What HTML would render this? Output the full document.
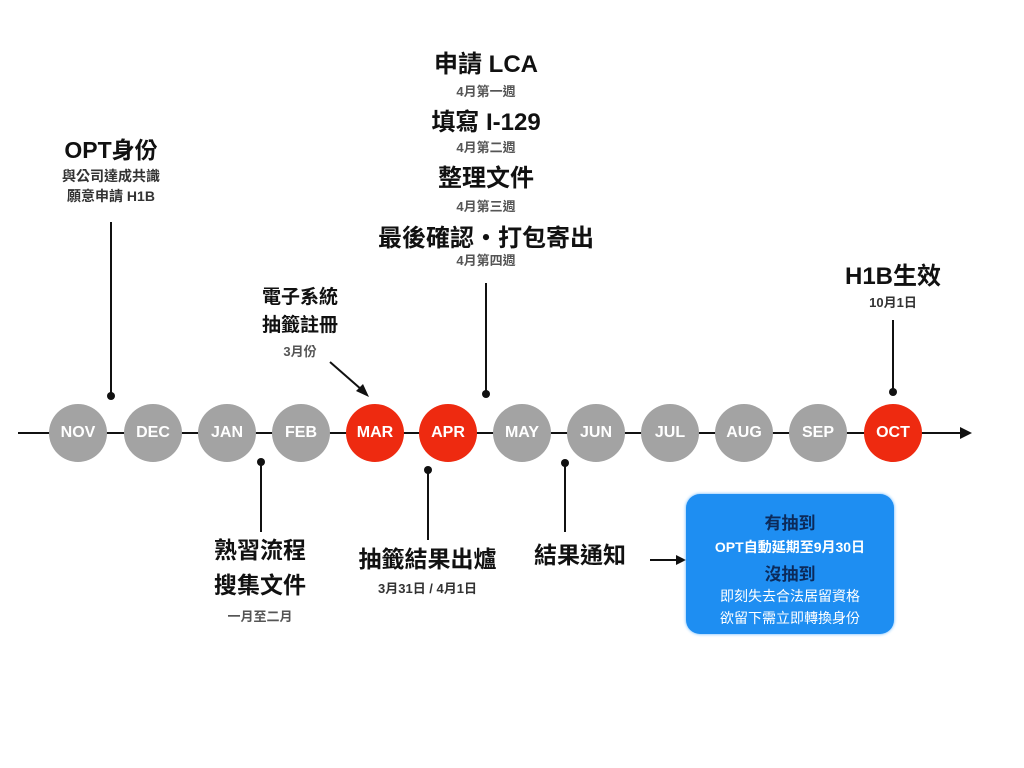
<!DOCTYPE html>
<html><head><meta charset="utf-8"><style>
body{margin:0;width:1024px;height:768px;background:#fff;overflow:hidden;position:relative;font-family:"Liberation Sans","Noto Sans CJK TC",sans-serif;}
.t{position:absolute;text-align:center;white-space:nowrap;font-weight:bold;color:#111;}
.c{position:absolute;width:58px;height:58px;border-radius:50%;background:#a3a3a3;color:#fff;font-weight:bold;font-size:16px;line-height:58px;text-align:center;top:404px;}
.r{background:#ee2a10;}
.s{color:#555;font-size:13px;}
</style></head><body>
<svg width="1024" height="768" style="position:absolute;left:0;top:0">
<line x1="18" y1="433" x2="962" y2="433" stroke="#111" stroke-width="2"/>
<polygon points="972,433 960,427 960,439" fill="#111"/>
<g stroke="#111" stroke-width="2">
<line x1="111" y1="222" x2="111" y2="396"/>
<line x1="486" y1="283" x2="486" y2="394"/>
<line x1="893" y1="320" x2="893" y2="392"/>
<line x1="261" y1="462" x2="261" y2="532"/>
<line x1="428" y1="470" x2="428" y2="540"/>
<line x1="565" y1="463" x2="565" y2="532"/>
<line x1="330" y1="362" x2="362" y2="390"/>
<line x1="650" y1="560" x2="680" y2="560"/>
</g>
<g fill="#111">
<circle cx="111" cy="396" r="4"/><circle cx="486" cy="394" r="4"/><circle cx="893" cy="392" r="4"/>
<circle cx="261" cy="462" r="4"/><circle cx="428" cy="470" r="4"/><circle cx="565" cy="463" r="4"/>
<polygon points="369,397 356,391 363,384"/>
<polygon points="686,560 676,555 676,565"/>
</g>
</svg>
<div class="c" style="left:49px">NOV</div><div class="c" style="left:124px">DEC</div>
<div class="c" style="left:198px">JAN</div><div class="c" style="left:272px">FEB</div>
<div class="c r" style="left:346px">MAR</div><div class="c r" style="left:419px">APR</div>
<div class="c" style="left:493px">MAY</div><div class="c" style="left:567px">JUN</div>
<div class="c" style="left:641px">JUL</div><div class="c" style="left:715px">AUG</div>
<div class="c" style="left:789px">SEP</div><div class="c r" style="left:864px">OCT</div>

<div class="t" style="left:11px;width:200px;top:131px;font-size:23px">OPT身份</div>
<div class="t" style="left:11px;width:200px;top:166px;font-size:14px;line-height:20px;color:#333">與公司達成共識<br>願意申請 H1B</div>

<div class="t" style="left:386px;width:200px;top:44px;font-size:24px">申請 LCA</div>
<div class="t s" style="left:386px;width:200px;top:81px">4月第一週</div>
<div class="t" style="left:386px;width:200px;top:102px;font-size:24px">填寫 I-129</div>
<div class="t s" style="left:386px;width:200px;top:137px">4月第二週</div>
<div class="t" style="left:386px;width:200px;top:158px;font-size:24px">整理文件</div>
<div class="t s" style="left:386px;width:200px;top:196px">4月第三週</div>
<div class="t" style="left:336px;width:300px;top:218px;font-size:24px">最後確認・打包寄出</div>
<div class="t s" style="left:386px;width:200px;top:250px">4月第四週</div>

<div class="t" style="left:230px;width:140px;top:284px;font-size:19px;line-height:28px">電子系統<br>抽籤註冊</div>
<div class="t s" style="left:230px;width:140px;top:341px">3月份</div>

<div class="t" style="left:793px;width:200px;top:256px;font-size:24px">H1B生效</div>
<div class="t s" style="left:793px;width:200px;top:292px;color:#333">10月1日</div>

<div class="t" style="left:190px;width:140px;top:533px;font-size:23px;line-height:35px">熟習流程<br>搜集文件</div>
<div class="t s" style="left:190px;width:140px;top:606px">一月至二月</div>
<div class="t" style="left:340px;width:175px;top:540px;font-size:23px">抽籤結果出爐</div>
<div class="t s" style="left:340px;width:175px;top:578px;color:#333">3月31日 / 4月1日</div>
<div class="t" style="left:520px;width:120px;top:536px;font-size:23px">結果通知</div>

<div style="position:absolute;left:686px;top:494px;width:208px;height:140px;background:#1e8ef2;border-radius:14px;box-shadow:0 0 3px #5ab0ff"></div>
<div class="t" style="left:686px;width:208px;top:509px;font-size:17px;color:#0c2a5a">有抽到</div>
<div class="t" style="left:686px;width:208px;top:537px;font-size:14px;color:#fff">OPT自動延期至9月30日</div>
<div class="t" style="left:686px;width:208px;top:560px;font-size:17px;color:#0c2a5a">沒抽到</div>
<div class="t" style="left:686px;width:208px;top:585px;font-size:14px;color:#fff;line-height:22px;font-weight:normal">即刻失去合法居留資格<br>欲留下需立即轉換身份</div>
</body></html>
